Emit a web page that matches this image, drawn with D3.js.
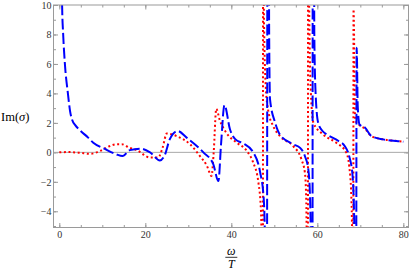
<!DOCTYPE html>
<html>
<head>
<meta charset="utf-8">
<script src="https://cdn.jsdelivr.net/npm/d3@7"></script>
<style>
  body { margin: 0; background: #fff; }
  svg { display: block; font-family: "Liberation Serif", "DejaVu Serif", serif; }
  .frame line { stroke: #9a9a9a; }
  .frame .domain { display: none; }
  .tick text { fill: #333; font-size: 10px; font-family: "Liberation Serif", serif; }
</style>
</head>
<body>
<svg id="chart" width="411" height="271"></svg>
<script>
  // omega / T values and Im(sigma)
  var blueW = [0.5, 0.65, 0.9, 1.3, 2.0, 2.5, 3.0, 3.7, 4.8, 6.7, 7.9, 10.5, 13.3, 14.7, 16.4, 18.8, 21.1, 23.4, 24.5,
    25.7, 27.5, 29.6, 33.5, 35.8, 37.0, 37.6, 38.4, 39.7, 40.9, 42.8, 45.1, 46.7, 47.5, 47.8, 48.2, 48.55,
    48.8, 49.0, 50.2, 51.3, 54.4, 56.0, 57.1, 57.9, 58.3, 58.6, 58.8, 59.0, 59.3, 59.6, 60.2, 61.2, 62.3,
    65.0, 66.4, 67.4, 68.2, 68.6, 68.9, 69.15, 69.4, 69.8, 71.1, 72.6, 75.3, 78.8, 80];
  var blueV = [14, 10, 8, 6, 4, 2.8, 2.2, 1.85, 1.5, 1.0, 0.65, 0.25, -0.14, -0.25, 0.15, 0.25, 0, -0.55, -0.2,
    0.9, 1.45, 1.0, 0, -0.8, -1.95, 0.5, 3.2, 1.55, 0.9, 0.6, 0, -1.35, -3, -5.5, -30, 60,
    8, 3.6, 2.0, 1.2, 0.55, 0.3, -0.25, -1.15, -3, -10, -60, 60, 8, 4, 2.0, 1.45, 1.2,
    0.75, 0.42, -0.25, -1.6, -5, -40, 7.1, 3.1, 1.9, 1.67, 1.1, 0.88, 0.76, 0.72];

  var redW = [0, 2, 4.8, 7.1, 9.5, 11.5, 13.3, 14.5, 16.4, 18, 21.1, 23, 24, 25, 27.3, 30.4, 32.7, 34.3,
    35.4, 35.9, 36.5, 37.3, 38.9, 41.3, 43.6, 45.1, 46.3, 46.9, 47.15, 47.3, 47.42, 47.55, 48.0, 48.6,
    49.8, 51.3, 54.4, 56.3, 57.1, 57.4, 57.6, 57.75, 57.9, 58.1, 58.5, 59.1, 61.4, 64.4, 66.7, 67.4,
    67.9, 68.1, 68.3, 68.42, 68.8, 69.8, 71.1, 72.6, 75.3, 78.8, 80];
  var redV = [0, 0.02, -0.03, -0.1, 0.1, 0.4, 0.55, 0.55, 0.3, 0.15, -0.35, -0.35, 0.3, 1.28, 1.1, 0.55, -0.25, -0.9,
    -1.6, 0, 2.95, 2.2, 1.3, 0.65, 0.1, -0.7, -2.05, -4, -10, -60, 60, 10, 4.5, 2.8,
    1.75, 1.1, 0.42, -0.47, -1.37, -3, -10, -60, 60, 10, 4, 2.0, 1.2, 0.65, 0, -0.9,
    -2.95, -6, -40, 9.7, 2.2, 1.85, 1.6, 1.1, 0.88, 0.76, 0.72];

  var xTicks = [0, 20, 40, 60, 80];
  var yTicks = [-4, -2, 0, 2, 4, 6, 8, 10];
  var xMinor = d3.range(0, 81, 5);
  var yMinor = d3.range(-5, 11, 1);

  var svg = d3.select('#chart'),
      margin = {top: 5, right: 2.5, bottom: 43.5, left: 53.5},
      width = +svg.attr('width') - margin.left - margin.right,
      height = +svg.attr('height') - margin.top - margin.bottom,
      g = svg.append('g').attr('transform', 'translate(' + margin.left + ',' + margin.top + ')');

  var x = d3.scaleLinear().domain([-1.35, 81.2]).range([0, width]);
  var y = d3.scaleLinear().domain([-5.1, 10]).range([height, 0]);

  // ticks on all four sides of the frame, pointing inwards
  function addAxis(axis, values, size, tr, labels) {
    var a = g.append('g').attr('class', 'frame')
        .attr('transform', tr || null)
        .call(axis.tickValues(values).tickSizeInner(-size).tickSizeOuter(0).tickPadding(3)
          .tickFormat(labels ? null : ''));
    a.attr('font-family', null);
    return a;
  }

  var bottom = 'translate(0,' + height + ')', right = 'translate(' + width + ',0)';
  addAxis(d3.axisBottom(x), xMinor, 2.5, bottom, false);
  addAxis(d3.axisTop(x), xMinor, 2.5, null, false);
  addAxis(d3.axisLeft(y), yMinor, 2.5, null, false);
  addAxis(d3.axisRight(y), yMinor, 2.5, right, false);

  addAxis(d3.axisBottom(x), xTicks, 4.5, bottom, true);
  addAxis(d3.axisTop(x), xTicks, 4.5, null, false);
  addAxis(d3.axisLeft(y), yTicks, 4.5, null, true)
    .selectAll('.tick text').attr('dx', '0.1em');
  addAxis(d3.axisRight(y), yTicks, 4.5, right, false);

  // zero line
  g.append('line')
      .attr('x1', 0).attr('x2', width)
      .attr('y1', y(0)).attr('y2', y(0))
      .attr('stroke', '#a8a8a8').attr('stroke-width', 1);

  g.append('clipPath').attr('id', 'clip')
    .append('rect').attr('width', width).attr('height', height);

  var line = d3.line()
      .x(function (d) { return x(d[0]); })
      .y(function (d) { return y(d[1]); })
      .curve(d3.curveMonotoneX);

  var red = redW.map(function (w, i) { return [w, redV[i]]; });
  var blue = blueW.map(function (w, i) { return [w, blueV[i]]; });

  g.append('path')
      .attr('clip-path', 'url(#clip)')
      .attr('fill', 'none')
      .attr('stroke', '#ff0000')
      .attr('stroke-width', 2)
      .attr('stroke-dasharray', '2,2.6')
      .attr('d', line(red));

  g.append('path')
      .attr('clip-path', 'url(#clip)')
      .attr('fill', 'none')
      .attr('stroke', '#0000ff')
      .attr('stroke-width', 2)
      .attr('stroke-dasharray', '11,3.5')
      .attr('d', line(blue));

  // frame box
  g.append('rect')
      .attr('width', width).attr('height', height)
      .attr('fill', 'none').attr('stroke', '#9a9a9a').attr('stroke-width', 1);

  // axis labels
  svg.append('text')
      .attr('x', 1).attr('y', 121)
      .attr('font-size', 12.5)
      .html('Im(<tspan font-style="italic">σ</tspan>)');

  var fx = margin.left + x(40);
  svg.append('text').attr('x', fx).attr('y', 254.5)
      .attr('text-anchor', 'middle').attr('font-size', 12).attr('font-style', 'italic').text('ω');
  svg.append('line').attr('x1', fx - 6).attr('x2', fx + 6)
      .attr('y1', 257.3).attr('y2', 257.3).attr('stroke', '#000').attr('stroke-width', 0.8);
  svg.append('text').attr('x', fx).attr('y', 268)
      .attr('text-anchor', 'middle').attr('font-size', 12).attr('font-style', 'italic').text('T');
</script>
</body>
</html>
